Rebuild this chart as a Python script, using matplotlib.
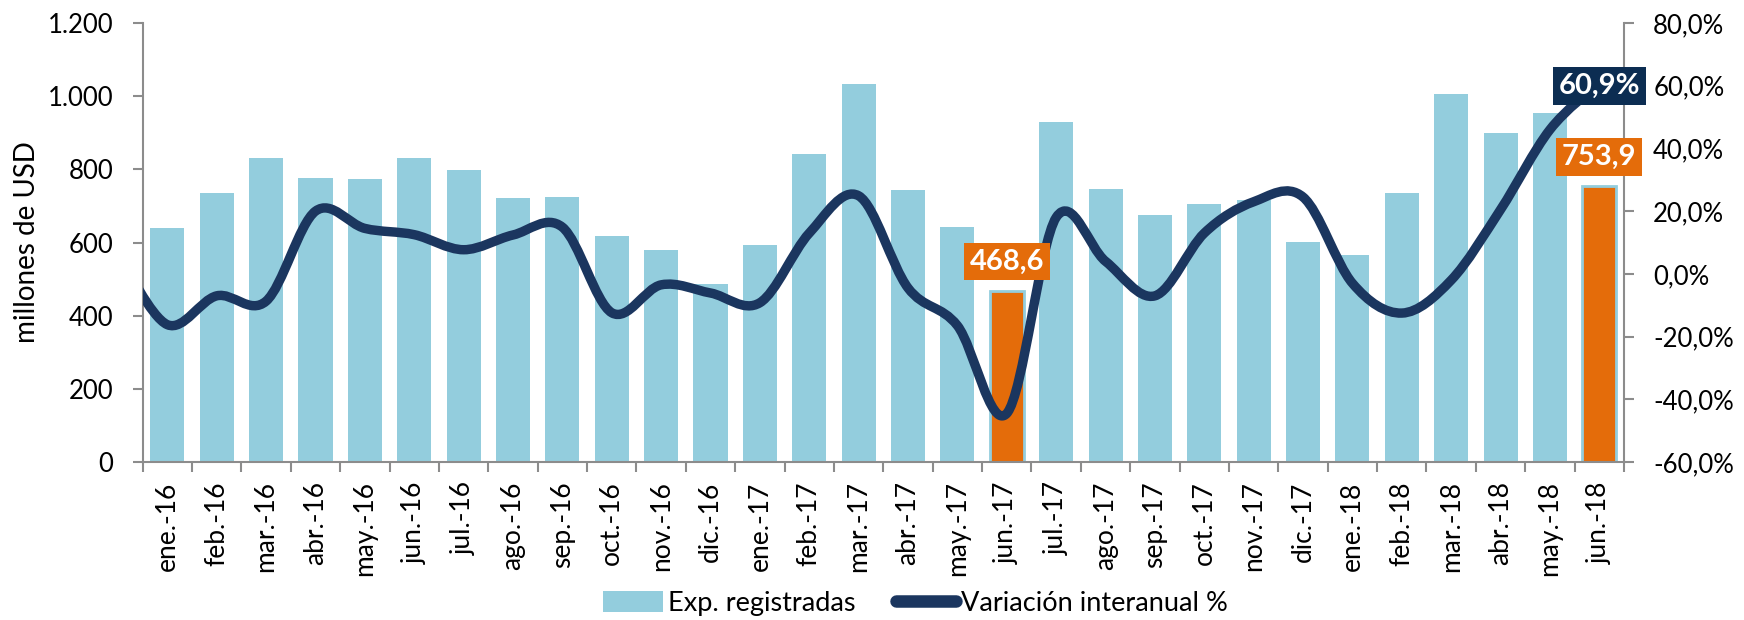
import numpy as np
import matplotlib
matplotlib.use('Agg')
import matplotlib.pyplot as plt
from matplotlib.path import Path
from matplotlib.patches import PathPatch, Patch
from matplotlib.lines import Line2D
from matplotlib.ticker import FuncFormatter, FixedLocator

plt.rcParams['font.family'] = ['Lato', 'DejaVu Sans']

# --- data ---
months = ['ene.-16', 'feb.-16', 'mar.-16', 'abr.-16', 'may.-16', 'jun.-16',
          'jul.-16', 'ago.-16', 'sep.-16', 'oct.-16', 'nov.-16', 'dic.-16',
          'ene.-17', 'feb.-17', 'mar.-17', 'abr.-17', 'may.-17', 'jun.-17',
          'jul.-17', 'ago.-17', 'sep.-17', 'oct.-17', 'nov.-17', 'dic.-17',
          'ene.-18', 'feb.-18', 'mar.-18', 'abr.-18', 'may.-18', 'jun.-18']

# exportaciones registradas (millones de USD)
exports = [641, 736, 830, 777, 774, 831, 799, 722, 725, 618, 580, 487,
           592, 843, 1032, 744, 643, 468.6, 929, 747, 674, 705, 715, 601,
           566, 736, 1005, 898, 953, 753.9]

# variacion interanual (%)
variation = [-16.2, -7.0, -8.7, 20.0, 14.5, 12.5, 7.7, 12.4, 14.9, -12.4, -3.5, -6.1,
             -9.2, 13.0, 24.9, -4.5, -16.5, -44.5, 18.0, 4.0, -7.0, 13.0, 23.0, 24.5,
             -3.0, -12.5, -2.0, 20.5, 46.0, 60.9]
variation_prev = 6.5   # dic.-15, only the start of the curve is visible

highlight = ['jun.-17', 'jun.-18']

left_ticks = [0, 200, 400, 600, 800, 1000, 1200]
right_ticks = [-60, -40, -20, 0, 20, 40, 60, 80]

# --- colours ---
c_bar = '#93CDDD'
c_orange = '#E46C0A'
c_line = '#1B365F'
c_box = '#0C2D52'
c_axis = '#8C8C8C'


def smooth_path(xs, ys, t=1/6):
    # Catmull-Rom style bezier through the points (like Excel's smoothed line)
    pts = np.column_stack([xs, ys]).astype(float)
    ext = np.vstack([pts[0], pts, pts[-1]])
    verts = [pts[0]]
    codes = [Path.MOVETO]
    for i in range(len(pts) - 1):
        p0, p1, p2, p3 = ext[i], ext[i + 1], ext[i + 2], ext[i + 3]
        verts += [p1 + (p2 - p0) * t, p2 - (p3 - p1) * t, p2]
        codes += [Path.CURVE4] * 3
    return Path(verts, codes)


fig = plt.figure(figsize=(17.44, 6.2), dpi=100)
ax1 = fig.add_axes([0.0818, 0.2548, 0.8494, 0.7081])
ax2 = ax1.twinx()

x = np.arange(len(months))
bar_colors = [c_orange if m in highlight else c_bar for m in months]
edge_colors = [c_bar if m in highlight else 'none' for m in months]
ax1.bar(x, exports, width=0.69, color=bar_colors, edgecolor=edge_colors, linewidth=2)

ax1.set_xlim(-0.5, len(months) - 0.5)
ax1.set_ylim(0, 1200)
ax2.set_ylim(-60, 80)

# line on the secondary axis
lx = np.concatenate([[-1], x])
ly = np.concatenate([[variation_prev], variation])
patch = PathPatch(smooth_path(lx, ly), facecolor='none', edgecolor=c_line,
                  linewidth=6.8, capstyle='butt', joinstyle='round')
ax2.add_patch(patch)
patch.set_clip_path(ax2.patch)

# axes styling
for ax in (ax1, ax2):
    ax.spines['top'].set_visible(False)
    for s in ['left', 'right', 'bottom']:
        ax.spines[s].set_color(c_axis)
        ax.spines[s].set_linewidth(1.5)
ax1.spines['right'].set_visible(False)
ax2.spines['left'].set_visible(False)
ax2.spines['bottom'].set_visible(False)

ax1.set_xticks(x)
ax1.set_xticklabels(months, rotation=90, fontsize=19)
ax1.tick_params(axis='x', which='major', length=0, pad=14)
ax1.xaxis.set_minor_locator(FixedLocator(np.arange(-0.5, len(months), 1)))
ax1.tick_params(axis='x', which='minor', length=7, width=1.5, color=c_axis)

ax1.set_yticks(left_ticks)
ax1.yaxis.set_major_formatter(FuncFormatter(lambda v, _: f'{v:,.0f}'.replace(',', '.')))
ax1.tick_params(axis='y', length=7, width=1.5, color=c_axis, labelsize=18.5, pad=14)

ax2.set_yticks(right_ticks)
ax2.yaxis.set_major_formatter(FuncFormatter(lambda v, _: f'{v:.1f}%'.replace('.', ',')))
ax2.tick_params(axis='y', length=7, width=1.5, color=c_axis, labelsize=18.5, pad=14)

ax1.set_ylabel('millones de USD', fontsize=20, labelpad=6)

# value labels
for m in highlight:
    i = months.index(m)
    val = exports[i]
    ax2.annotate(f'{val:.1f}'.replace('.', ','), xy=(i, val), xycoords=ax1.transData,
                 xytext=(0, 29), textcoords='offset pixels', ha='center', va='center',
                 fontsize=21, fontweight='bold', color='white', zorder=10,
                 bbox=dict(boxstyle='square,pad=0.2', facecolor=c_orange, edgecolor='none'))

last = len(months) - 1
ax2.annotate(f'{variation[-1]:.1f}%'.replace('.', ','), xy=(last, variation[-1]),
             xytext=(0, -3), textcoords='offset pixels', ha='center', va='center',
             fontsize=21, fontweight='bold', color='white', zorder=10,
             bbox=dict(boxstyle='square,pad=0.2', facecolor=c_box, edgecolor='none'))

# legend
handles = [Patch(facecolor=c_bar, edgecolor='none', label='Exp. registradas'),
           Line2D([], [], color=c_line, linewidth=9, solid_capstyle='round',
                  label='Variación interanual %')]
fig.legend(handles=handles, loc='center', bbox_to_anchor=(0.525, 0.027), ncol=2,
           frameon=False, fontsize=19.5, handlelength=2.2, handleheight=0.8,
           handletextpad=0.2, columnspacing=1.5)

fig.savefig('out.png', dpi=100)
